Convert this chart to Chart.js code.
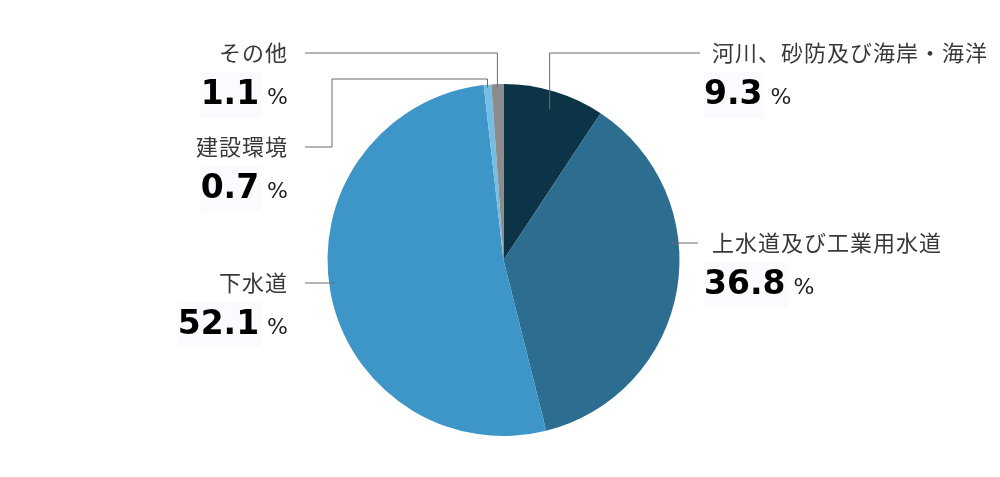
<!DOCTYPE html>
<html>
<head>
<meta charset="utf-8">
<script src="https://cdn.jsdelivr.net/npm/chart.js@4/dist/chart.umd.min.js"></script>
<style>
  html, body { margin: 0; padding: 0; background: #fff; }
  #wrap { width: 1000px; height: 477px; position: relative; }
</style>
</head>
<body>
<div id="wrap"><canvas id="pie"></canvas></div>
<script>
const categories = ['河川、砂防及び海岸・海洋', '上水道及び工業用水道', '下水道', '建設環境', 'その他'];
const shares = [9.3, 36.8, 52.1, 0.7, 1.1];
const sliceColors = ['#0b3447', '#2d6d90', '#3e95c8', '#74bee5', '#8c8c8c'];

// where each label sits and how its leader line bends
const labelLayout = [
  { side: 'right', x: 712, y: 53, lineY: 53, lineEnd: 700, anchorR: 0.91 },
  { side: 'right', x: 712, y: 243, lineY: 243, lineEnd: 698, flat: true },
  { side: 'left', x: 288, y: 283, lineY: 283, lineEnd: 305, flat: true },
  { side: 'left', x: 288, y: 147, lineY: 79, lineEnd: 305, elbowX: 332, anchorR: 1 },
  { side: 'left', x: 288, y: 53, lineY: 53, lineEnd: 305, anchorR: 1 }
];

const lineColor = '#6b6b6b';
const textColor = '#383838';
const labelFont = '400 22px "Noto Sans CJK JP", "Noto Sans", sans-serif';
const numFont = 'bold 33px "DejaVu Sans", Verdana, sans-serif';
const pctFont = '400 22px "DejaVu Sans", sans-serif';

const leaderLabels = {
  id: 'leaderLabels',
  afterDraw(chart) {
    const { ctx } = chart;
    const arcs = chart.getDatasetMeta(0).data;
    ctx.save();
    arcs.forEach((arc, i) => {
      const L = labelLayout[i];
      const mid = (arc.startAngle + arc.endAngle) / 2;
      const r = arc.outerRadius;

      ctx.strokeStyle = lineColor;
      ctx.lineWidth = 1;
      ctx.beginPath();
      if (L.flat) {
        const dy = L.lineY - arc.y;
        const edge = Math.sqrt(r * r - dy * dy);
        const inner = L.side === 'right' ? arc.x + edge - 8 : arc.x - edge + 6;
        ctx.moveTo(inner, L.lineY);
        ctx.lineTo(L.lineEnd, L.lineY);
      } else {
        const ax = arc.x + Math.cos(mid) * r * L.anchorR;
        const ay = arc.y + Math.sin(mid) * r * L.anchorR;
        ctx.moveTo(ax, ay + 3);
        ctx.lineTo(ax, L.lineY);
        if (L.elbowX) {
          ctx.lineTo(L.elbowX, L.lineY);
          ctx.lineTo(L.elbowX, L.y);
        }
        ctx.lineTo(L.lineEnd, L.elbowX ? L.y : L.lineY);
      }
      ctx.stroke();

      // category name
      ctx.fillStyle = textColor;
      ctx.font = labelFont;
      ctx.letterSpacing = '1px';
      ctx.textBaseline = 'middle';
      ctx.textAlign = L.side === 'right' ? 'left' : 'right';
      ctx.fillText(categories[i], L.x, L.y);
      ctx.letterSpacing = '0px';

      // value + percent sign
      const num = shares[i].toFixed(1);
      const base = L.y + 51;
      ctx.textBaseline = 'alphabetic';
      ctx.font = numFont;
      const nw = ctx.measureText(num).width;
      ctx.font = pctFont;
      const pw = ctx.measureText('%').width;
      const gap = 8;
      let nx;
      if (L.side === 'right') {
        nx = L.x - 8;
      } else {
        nx = L.x - pw - gap - nw;
      }
      ctx.fillStyle = '#fbfbff';
      ctx.fillRect(nx, base - 32, nw + 2, 46);
      ctx.fillStyle = '#000';
      ctx.font = numFont;
      ctx.textAlign = 'left';
      ctx.fillText(num, nx, base);
      ctx.fillStyle = '#222';
      ctx.font = pctFont;
      ctx.fillText('%', nx + nw + gap, base);
    });
    ctx.restore();
  }
};

new Chart(document.getElementById('pie'), {
  type: 'pie',
  data: {
    labels: categories,
    datasets: [{
      data: shares,
      backgroundColor: sliceColors,
      borderWidth: 0
    }]
  },
  options: {
    responsive: true,
    maintainAspectRatio: false,
    animation: false,
    layout: { padding: { left: 327, right: 320, top: 84, bottom: 41 } },
    plugins: {
      legend: { display: false },
      tooltip: { enabled: false }
    }
  },
  plugins: [leaderLabels]
});
</script>
</body>
</html>
